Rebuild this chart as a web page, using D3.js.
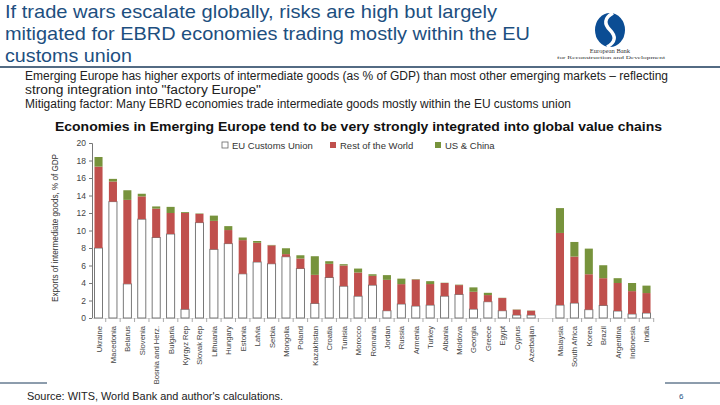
<!DOCTYPE html>
<html><head><meta charset="utf-8">
<script src="https://cdn.jsdelivr.net/npm/d3@7"></script>
<style>
html,body{margin:0;padding:0;background:#fff;}
svg{display:block;font-family:"Liberation Sans Narrow","Arial Narrow","Liberation Sans",Arial,sans-serif;}
</style></head><body>
<svg id="c" width="720" height="405"></svg>
<script>
const categories = ["Ukraine","Macedonia","Belarus","Slovenia","Bosnia and Herz.","Bulgaria","Kyrgyz Rep","Slovak Rep","Lithuania","Hungary","Estonia","Latvia","Serbia","Mongolia","Poland","Kazakhstan","Croatia","Tunisia","Morocco","Romania","Jordan","Russia","Armenia","Turkey","Albania","Moldova","Georgia","Greece","Egypt","Cyprus","Azerbaijan"," ","Malaysia","South Africa","Korea","Brazil","Argentina","Indonesia","India"];
const euCustomsUnion = [8.0,13.3,3.9,11.3,9.2,9.6,1.0,10.9,7.85,8.5,5.05,6.4,6.2,7.0,5.65,1.67,4.63,3.64,2.5,3.76,0.83,1.6,1.37,1.48,2.5,2.7,1.02,1.86,0.83,0.34,0.34,0,1.48,1.71,0.95,1.44,0.8,0.46,0.57];
const restOfWorld = [9.3,2.3,9.6,2.6,3.3,2.4,11.0,1.0,3.25,1.55,3.85,2.2,2.1,0.3,1.15,3.26,1.56,2.36,2.7,1.06,3.53,2.27,3.03,2.4,1.5,1.06,1.98,0.76,1.45,0.61,0.49,0,8.24,5.31,4.05,3.11,3.2,2.61,2.28];
const usChina = [1.1,0.3,1.1,0.3,0.25,0.7,0.1,0.05,0.6,0.45,0.3,0.2,0.05,0.67,0.37,2.13,0.3,0.15,0.45,0.18,0.54,0.63,0.05,0.33,0.03,0.05,0.5,0.26,0.03,0.03,0.03,0,2.84,1.67,2.93,1.48,0.55,0.93,0.85];
const seriesNames = ["EU Customs Union","Rest of the World","US & China"];
const yTicks = [0,2,4,6,8,10,12,14,16,18,20];

const colors = ["#ffffff","#C0504D","#77933C"];
const svg = d3.select("#c");

// Header
const blue = "#1d4f7f";
const title = [
  {t:"If trade wars escalate globally, risks are high but largely", w:492, y:18},
  {t:"mitigated for EBRD economies trading mostly within the EU", w:525, y:40},
  {t:"customs union", w:127, y:62}
];
title.forEach(l=>svg.append("text").attr("x",5).attr("y",l.y).attr("font-size",19)
  .attr("fill",blue).attr("textLength",l.w).attr("lengthAdjust","spacingAndGlyphs").text(l.t));
svg.append("line").attr("x1",0).attr("x2",720).attr("y1",67).attr("y2",67).attr("stroke","#1a3a5a").attr("stroke-width",1.3);

// logo
const lg = svg.append("g");
lg.append("ellipse").attr("cx",610).attr("cy",30).attr("rx",15).attr("ry",17).attr("fill","#0b4d94");
lg.append("path").attr("d","M613,13 C604,18 604,24 610,30 C616,36 616,42 607,47").attr("fill","none").attr("stroke","#fff").attr("stroke-width",3.5);
lg.append("text").attr("x",610).attr("y",53).attr("text-anchor","middle").attr("font-size",6.5)
  .attr("font-family","Liberation Serif,serif").attr("fill","#333").text("European Bank");
lg.append("text").attr("x",611).attr("y",59).attr("text-anchor","middle").attr("font-size",4.2)
  .attr("font-family","Liberation Serif,serif").attr("fill","#333").attr("textLength",108).attr("lengthAdjust","spacingAndGlyphs").text("for Reconstruction and Development");

const sub = [
  {t:"Emerging Europe has higher exports of intermediate goods (as % of GDP) than most other emerging markets – reflecting", w:643, y:80},
  {t:"strong integration into \"factory Europe\"", w:236, y:94},
  {t:"Mitigating factor: Many EBRD economies trade intermediate goods mostly within the EU customs union", w:546, y:108}
];
sub.forEach(l=>svg.append("text").attr("x",25).attr("y",l.y).attr("font-size",12).attr("fill","#222")
  .attr("textLength",l.w).attr("lengthAdjust","spacingAndGlyphs").text(l.t));

svg.append("text").attr("x",55).attr("y",131).attr("font-size",13).attr("font-weight","bold").attr("fill","#111")
  .attr("textLength",607).attr("lengthAdjust","spacingAndGlyphs")
  .text("Economies in Emerging Europe tend to be very strongly integrated into global value chains");

// chart
const x = d3.scaleBand().domain(categories).range([91.3,653.7]).paddingInner(0.44).paddingOuter(0.22);
const y = d3.scaleLinear().domain([0,20]).range([318,143]);

const rows = categories.map((c,i)=>({cat:c, eu:euCustomsUnion[i], row:restOfWorld[i], us:usChina[i]}));
const stack = d3.stack().keys(["eu","row","us"])(rows);

// y axis
const ya = svg.append("g").attr("transform","translate(92,0)")
  .call(d3.axisLeft(y).tickValues(yTicks).tickSize(3).tickPadding(3));
ya.select(".domain").attr("stroke","#777");
ya.selectAll(".tick line").attr("stroke","#777");
ya.selectAll(".tick text").attr("font-size",8.5).attr("fill","#444").attr("font-family","Liberation Sans,Arial,sans-serif");

svg.append("text").attr("transform","translate(58,228) rotate(-90)").attr("text-anchor","middle")
  .attr("font-size",9.5).attr("fill","#333").attr("textLength",148).attr("lengthAdjust","spacingAndGlyphs")
  .text("Exports of intermediate goods, % of GDP");

// x baseline and boundary ticks
svg.append("line").attr("x1",92).attr("x2",653.7).attr("y1",318.5).attr("y2",318.5).attr("stroke","#ddd");
const step = x.step(), gap = (step - x.bandwidth())/2;
svg.append("g").selectAll("line").data(categories).join("line")
  .attr("x1",d=>x(d)+x.bandwidth()+gap).attr("x2",d=>x(d)+x.bandwidth()+gap)
  .attr("y1",318).attr("y2",322).attr("stroke","#aaa");

// bars
stack.forEach((s,k)=>{
  svg.append("g").selectAll("rect").data(s.filter(d=>d[1]-d[0]>0)).join("rect")
    .attr("x",d=>x(d.data.cat)).attr("width",x.bandwidth())
    .attr("y",d=>y(d[1])).attr("height",d=>y(d[0])-y(d[1]))
    .attr("fill",colors[k])
    .attr("stroke",k===0?"#6b6b6b":"none").attr("stroke-width",k===0?0.9:0);
});

// x labels
svg.append("g").selectAll("text").data(categories).join("text")
  .attr("transform",d=>`translate(${x(d)+x.bandwidth()/2+3},326) rotate(-90)`)
  .attr("text-anchor","end").attr("font-size",7.6).attr("fill","#444").text(d=>d);

// legend
const leg = svg.append("g");
const legX = [222,330,435];
seriesNames.forEach((n,i)=>{
  leg.append("rect").attr("x",legX[i]).attr("y",142).attr("width",6).attr("height",6)
    .attr("fill",colors[i]).attr("stroke",i===0?"#666":"none").attr("stroke-width",0.8);
  leg.append("text").attr("x",legX[i]+10).attr("y",148.5).attr("font-size",9.5).attr("fill","#333")
    .attr("font-family","Liberation Sans,Arial,sans-serif").text(n);
});

// footer
svg.append("line").attr("x1",0).attr("x2",47).attr("y1",383).attr("y2",383).attr("stroke","#1a3a5a").attr("stroke-width",1);
svg.append("line").attr("x1",665).attr("x2",720).attr("y1",383).attr("y2",383).attr("stroke","#1a3a5a").attr("stroke-width",1);
svg.append("text").attr("x",27).attr("y",400).attr("font-size",11).attr("fill","#222")
  .attr("textLength",256).attr("lengthAdjust","spacingAndGlyphs").text("Source: WITS, World Bank and author's calculations.");
svg.append("text").attr("x",679).attr("y",399).attr("font-size",8).attr("fill","#1d4f7f").text("6");
</script></body></html>
